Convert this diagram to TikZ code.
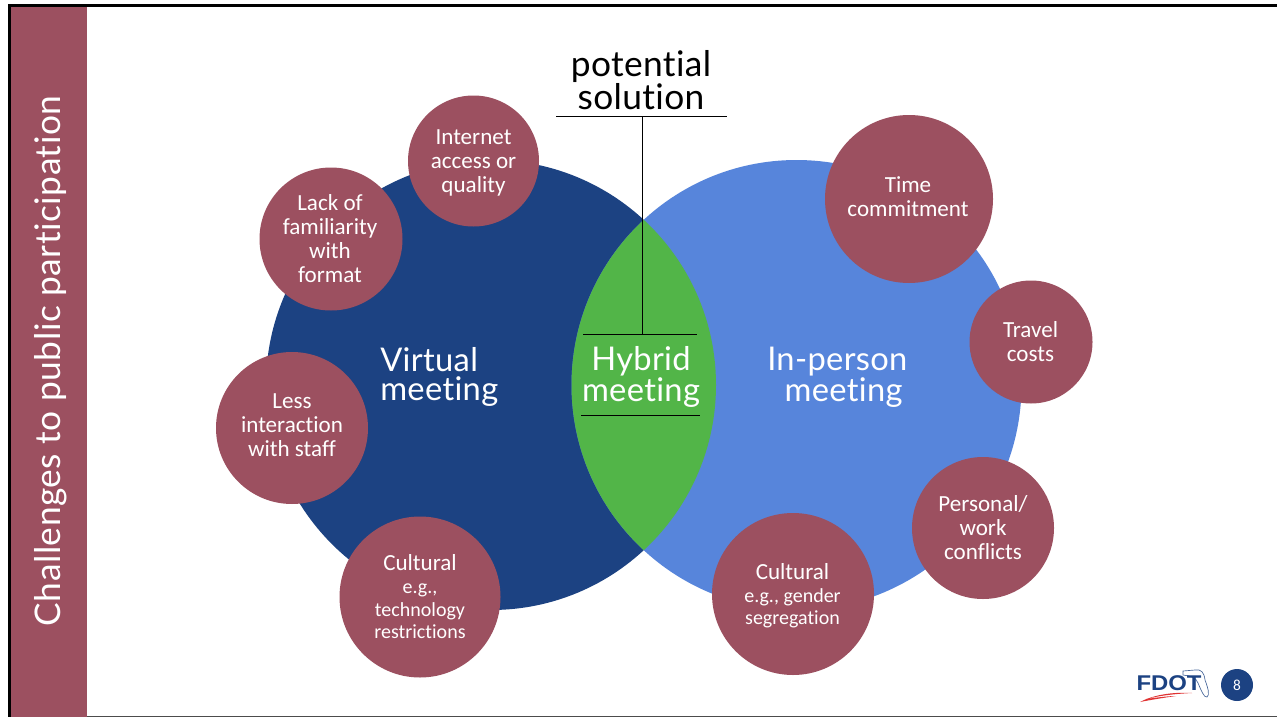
\documentclass[tikz,border=0pt]{standalone}
\usepackage{fontspec}
\setmainfont[Ligatures=NoCommon,Kerning=On]{Carlito}
\newfontfamily\headf[LetterSpace=1,Ligatures=NoCommon]{Lato}
\newfontfamily\sidef[LetterSpace=1.4,Ligatures=NoCommon]{Lato}
\newfontfamily\logof{Liberation Sans}
\definecolor{rose}{HTML}{9C5060}
\definecolor{navy}{HTML}{1C4282}
\definecolor{sky}{HTML}{5785DB}
\definecolor{lens}{HTML}{52B548}
\tikzset{
  x=0.75pt,y=-0.75pt,
  bub/.style={circle,fill=rose,minimum size=#1*0.75pt,inner sep=0pt},
  btxt/.style={inner sep=0pt,align=center,text=white,font=\fontsize{17.3}{18}\selectfont},
  head/.style={text=white,font=\headf\fontsize{24.5}{22}\selectfont,inner sep=0pt},
  rule/.style={draw=black,line width=0.75pt}
}
\newcommand{\smalltxt}{\fontsize{15}{16.5}\selectfont}
\begin{document}
\begin{tikzpicture}
\useasboundingbox (0,0) rectangle (1277,717);
\fill[white] (0,0) rectangle (1277,717);
% frame
\fill[black] (8,4) rectangle (1277,7);
\fill[black] (8,4) rectangle (11,717);
\fill[black!70] (11,715.5) rectangle (1277,717);
\fill[rose] (11,7) rectangle (87,717);
\node[rotate=90,text=white,font=\sidef\fontsize{26.5}{28}\selectfont,inner sep=0pt] (side) at (50.5,361) {Challenges to public participation};
% venn
\fill[navy] (491,385) circle[radius=225];
\fill[sky] (796.5,385) circle[radius=225];
\begin{scope}
\clip (491,385) circle[radius=225];
\fill[lens] (796.5,385) circle[radius=225];
\end{scope}
% bubbles
\node[bub=131] (net) at (473.5,161) {};
\node[btxt] (nett) at (473.5,163) {Internet\\access or\\quality};
\node[bub=143] (fam) at (331,239) {};
\node[btxt] (famt) at (330,239) {Lack of\\familiarity\\with\\format};
\node[bub=152] (less) at (292,428) {};
\node[btxt] (lesst) at (292,425) {Less\\interaction\\with staff};
\node[bub=161] (cv) at (420,597) {};
\node[btxt] (cvt) at (420,597) {Cultural\\[-1pt]{\smalltxt e.g.,}\\[-1pt]{\smalltxt technology}\\[-1pt]{\smalltxt restrictions}};
\node[bub=168] (time) at (909,199) {};
\node[btxt] (timet) at (908,196.5) {Time\\commitment};
\node[bub=123] (travel) at (1031,342) {};
\node[btxt] (travelt) at (1030.5,342) {Travel\\costs};
\node[bub=142] (work) at (983,528) {};
\node[btxt] (workt) at (983,528) {Personal/\\work\\conflicts};
\node[bub=162] (cp) at (793,594) {};
\node[btxt] (cpt) at (792.5,596) {Cultural\\[-1pt]{\smalltxt e.g., gender}\\[-1pt]{\smalltxt segregation}};
% heads
\node[head,align=left,anchor=west] (virt) at (380,377) {Virtual\\meeting};
\node[head,align=center] (hyb) at (641,377) {Hybrid\\meeting};
\node[head,align=left,anchor=west] (inp) at (767,377) {In-person\\\hspace*{13pt}meeting};
\node[align=center,text=black,inner sep=0pt,font=\headf\fontsize{26.5}{24}\selectfont] (pot) at (641,80) {potential\\solution};
% rules
\coordinate (ta) at (556,116.5); \coordinate (tb) at (727,116.5);
\coordinate (tm) at (642.5,116.5); \coordinate (bm) at (642.5,334.5);
\coordinate (ma) at (583,334.5); \coordinate (mb) at (697,334.5);
\coordinate (la) at (581,415); \coordinate (lb) at (700,415);
\draw[rule] (ta) -- (tb);
\draw[rule] (tm) -- (bm);
\draw[rule] (ma) -- (mb);
\draw[rule] (la) -- (lb);
% logo
\draw[navy!80,line width=0.5pt] (1183,671) -- (1195,670) .. controls (1201,669) and (1204,672) .. (1205,680) .. controls (1208,688) and (1210,695) .. (1207,697) .. controls (1204,698) and (1201,690) .. (1198,683) .. controls (1196,677) and (1190,676) .. (1183,675) -- cycle;
\node[navy,inner sep=0pt,xscale=1.12,font=\logof\bfseries\fontsize{16}{18}\selectfont] (fdot) at (1169,683) {FDOT};
\fill[red!85!black!80] (1140,702) .. controls (1155,694) and (1175,692) .. (1192,693) .. controls (1172,694) and (1158,696) .. (1146,699) .. controls (1160,697) and (1170,696) .. (1176,696) .. controls (1162,698) and (1150,700) .. (1140,702) -- cycle;
\node[circle,fill=navy,minimum size=24pt,inner sep=0pt,text=white,font=\fontsize{11.5}{12}\selectfont] (pg) at (1237,685) {8};
\end{tikzpicture}
\end{document}
